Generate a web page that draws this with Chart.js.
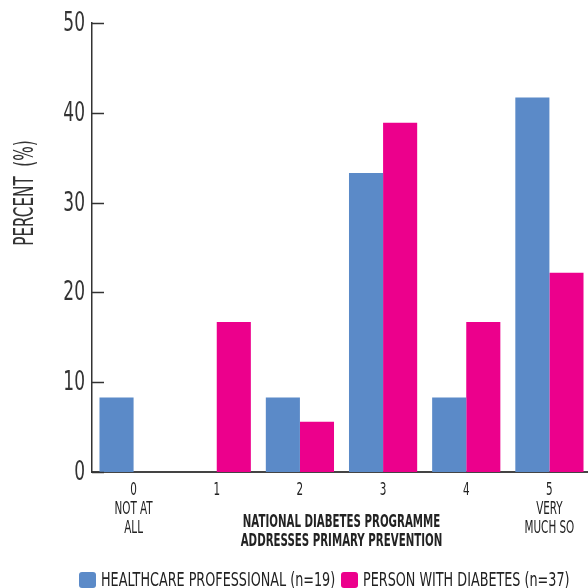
<!DOCTYPE html>
<html>
<head>
<meta charset="utf-8">
<script src="https://cdn.jsdelivr.net/npm/chart.js@4.4.1/dist/chart.umd.min.js"></script>
<style>
  html, body { margin: 0; padding: 0; background: #fff; overflow: hidden; }
  #wrap { position: relative; width: 592px; height: 588px; }
  .swatch { position: absolute; top: 572px; width: 17px; height: 16px; border-radius: 3px; }
  .label {
    position: absolute; top: 569px; line-height: 21px;
    font-family: "DejaVu Sans Condensed", "DejaVu Sans", sans-serif;
    font-size: 20px; color: #222; white-space: nowrap;
    transform: scaleX(0.71); transform-origin: left center;
  }
</style>
</head>
<body>
<div id="wrap">
  <canvas id="chart" width="592" height="588"></canvas>
  <span class="swatch" id="sw0" style="left:79px"></span>
  <span class="label" id="lb0" style="left:101px"></span>
  <span class="swatch" id="sw1" style="left:341px"></span>
  <span class="label" id="lb1" style="left:363px"></span>
</div>
<script>
  const FONT = '"DejaVu Sans Condensed", "DejaVu Sans", sans-serif';

  const CATEGORIES = [["0", "NOT AT", "ALL"], "1", "2", "3", "4", ["5", "VERY", "MUCH SO"]];
  const HCP_VALUES = [8.3, 0, 8.3, 33.3, 8.3, 41.7];
  const PWD_VALUES = [0, 16.7, 5.6, 38.9, 16.7, 22.2];
  const SERIES_NAMES = ["HEALTHCARE PROFESSIONAL (n=19)", "PERSON WITH DIABETES (n=37)"];
  const COLORS = ["#5b8ac8", "#ec008c"];
  const Y_TITLE = "PERCENT  (%)";
  const X_TITLE = ["NATIONAL DIABETES PROGRAMME", "ADDRESSES PRIMARY PREVENTION"];

  // only DejaVu Condensed is around, which is much wider than the DIN-ish
  // face in the original, so text gets squeezed horizontally when drawn
  function squeezed(ctx, text, x, y, align, factor) {
    ctx.save();
    ctx.translate(x, y);
    ctx.scale(factor, 1);
    ctx.textAlign = align;
    ctx.fillText(text, 0, 0);
    ctx.restore();
  }

  // tick labels, inward y ticks and the axis titles
  const axisText = {
    id: "axisText",
    afterDraw(chart) {
      const ctx = chart.ctx;
      const area = chart.chartArea;
      const x = chart.scales.x;
      const y = chart.scales.y;
      ctx.save();
      ctx.textBaseline = "middle";

      ctx.strokeStyle = "#333";
      ctx.lineWidth = 1.5;
      ctx.fillStyle = "#333";
      ctx.font = "27px " + FONT;
      y.ticks.forEach(function (t) {
        const py = Math.round(y.getPixelForValue(t.value)) + 0.5;
        ctx.beginPath();
        ctx.moveTo(area.left, py);
        ctx.lineTo(area.left + 12, py);
        ctx.stroke();
        squeezed(ctx, String(t.value), area.left - 7, py, "right", 0.7);
      });

      ctx.fillStyle = "#222";
      ctx.font = "17px " + FONT;
      x.ticks.forEach(function (t, i) {
        const px = x.getPixelForTick(i);
        [].concat(x.getLabelForValue(t.value)).forEach(function (line, j) {
          squeezed(ctx, line, px, area.bottom + 19 + j * 19, "center", 0.68);
        });
      });

      ctx.font = "bold 17px " + FONT;
      const cx = (area.left + area.right) / 2;
      squeezed(ctx, X_TITLE[0], cx, area.bottom + 51, "center", 0.67);
      squeezed(ctx, X_TITLE[1], cx, area.bottom + 70, "center", 0.67);

      ctx.translate(26, 193);
      ctx.rotate(-Math.PI / 2);
      ctx.font = "26px " + FONT;
      ctx.fillStyle = "#333";
      squeezed(ctx, Y_TITLE, 0, 0, "center", 0.65);
      ctx.restore();
    }
  };

  new Chart(document.getElementById("chart"), {
    type: "bar",
    data: {
      labels: CATEGORIES,
      datasets: [
        { label: SERIES_NAMES[0], data: HCP_VALUES, backgroundColor: COLORS[0] },
        { label: SERIES_NAMES[1], data: PWD_VALUES, backgroundColor: COLORS[1] }
      ]
    },
    options: {
      responsive: false,
      animation: false,
      layout: { padding: { top: 23, right: 1, left: 0, bottom: 0 } },
      datasets: { bar: { categoryPercentage: 0.82, barPercentage: 1 } },
      plugins: { legend: { display: false }, tooltip: { enabled: false } },
      scales: {
        x: {
          grid: { display: false, drawTicks: false },
          border: { color: "#444", width: 2 },
          ticks: { display: false, autoSkip: false },
          afterFit(scale) { scale.height = 116; }
        },
        y: {
          min: 0,
          max: 50,
          grid: { display: false, drawTicks: false },
          border: { color: "#333", width: 1.5 },
          ticks: { display: false, stepSize: 10 },
          afterFit(scale) { scale.width = 92; }
        }
      }
    },
    plugins: [axisText]
  });

  SERIES_NAMES.forEach(function (name, i) {
    document.getElementById("sw" + i).style.background = COLORS[i];
    document.getElementById("lb" + i).textContent = name;
  });
</script>
</body>
</html>
